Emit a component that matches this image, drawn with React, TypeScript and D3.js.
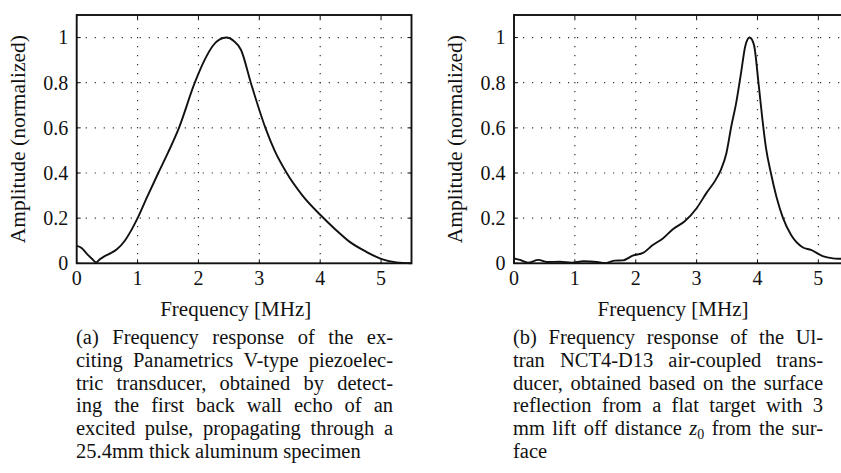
import React, { useLayoutEffect, useRef } from "react";
import * as d3 from "d3";

const xTicks = [0, 1, 2, 3, 4, 5];
const xTickLabels = ["0", "1", "2", "3", "4", "5"];
const yTicks = [0, 0.2, 0.4, 0.6, 0.8, 1];
const yTickLabels = ["0", "0.2", "0.4", "0.6", "0.8", "1"];

const leftFreq = [0, 0.08, 0.16, 0.25, 0.32, 0.38, 0.46, 0.56, 0.66, 0.79, 0.9, 1.0, 1.15, 1.34, 1.5, 1.68, 1.94, 2.1, 2.24, 2.35, 2.46, 2.58, 2.7, 2.86, 3.1, 3.25, 3.45, 3.71, 4.0, 4.25, 4.48, 4.75, 5.0, 5.25, 5.5];
const leftAmp = [0.077, 0.068, 0.044, 0.02, 0.004, 0.018, 0.032, 0.045, 0.062, 0.1, 0.148, 0.2, 0.29, 0.4, 0.49, 0.6, 0.8, 0.9, 0.965, 0.992, 1.0, 0.985, 0.945, 0.8, 0.6, 0.5, 0.4, 0.3, 0.215, 0.15, 0.096, 0.052, 0.02, 0.004, 0.0];

const rightFreq = [0, 0.1, 0.23, 0.4, 0.54, 0.75, 0.95, 1.14, 1.36, 1.49, 1.66, 1.79, 1.96, 2.12, 2.28, 2.45, 2.61, 2.8, 3.0, 3.16, 3.32, 3.4, 3.49, 3.57, 3.65, 3.73, 3.8, 3.87, 3.94, 4.02, 4.08, 4.14, 4.22, 4.31, 4.42, 4.55, 4.74, 4.88, 5.07, 5.24, 5.36, 5.5];
const rightAmp = [0.022, 0.015, 0.003, 0.015, 0.006, 0.007, 0.003, 0.009, 0.006, 0.001, 0.012, 0.013, 0.035, 0.046, 0.081, 0.111, 0.151, 0.185, 0.244, 0.311, 0.373, 0.415, 0.489, 0.607, 0.711, 0.844, 0.963, 1.0, 0.97, 0.79, 0.64, 0.51, 0.4, 0.296, 0.2, 0.126, 0.071, 0.059, 0.032, 0.022, 0.02, 0.018];

const xLabel = "Frequency [MHz]";
const yLabel = "Amplitude (normalized)";

const captionA = [
  "(a) Frequency response of the ex-",
  "citing Panametrics V-type piezoelec-",
  "tric transducer, obtained by detect-",
  "ing the first back wall echo of an",
  "excited pulse, propagating through a",
  "25.4mm thick aluminum specimen",
];
const captionB = [
  "(b) Frequency response of the Ul-",
  "tran NCT4-D13 air-coupled trans-",
  "ducer, obtained based on the surface",
  "reflection from a flat target with 3",
  "mm lift off distance z0 from the sur-",
  "face",
];

const FONT = '"Liberation Serif", "Times New Roman", "DejaVu Serif", serif';
const TICKFS = 20;
const LABELFS = 21;
const CAPFS = 20.5;
const SUBFS = 14;

type Seg = { t: string; it?: boolean; sub?: boolean };
function wordSegs(w: string): Seg[] {
  if (w === "z0") return [{ t: "z", it: true }, { t: "0", sub: true }];
  return [{ t: w }];
}

function Caption({ lines, x0, x1, y0, dy }: { lines: string[]; x0: number; x1: number; y0: number; dy: number }) {
  const ref = useRef<SVGGElement>(null);
  useLayoutEffect(() => {
    if (!ref.current) return;
    const g = d3.select(ref.current);
    g.selectAll("*").remove();
    const probe = g.append("text").attr("font-size", CAPFS).text("a a");
    const withSpace = (probe.node() as SVGTextElement).getComputedTextLength();
    probe.text("aa");
    const space = withSpace - (probe.node() as SVGTextElement).getComputedTextLength();
    probe.remove();
    lines.forEach((line, li) => {
      const y = y0 + li * dy;
      const words = line.split(" ");
      const text = g.append("text").attr("font-size", CAPFS).attr("y", y);
      const items = words.map((w) => {
        const segs = wordSegs(w);
        const nodes = segs.map((s) =>
          text
            .append("tspan")
            .attr("font-size", s.sub ? SUBFS : CAPFS)
            .attr("font-style", s.it ? "italic" : "normal")
            .attr("y", s.sub ? y + 3.5 : y)
            .text(s.t)
        );
        const widths = nodes.map((n) => (n.node() as SVGTextContentElement).getComputedTextLength());
        return { nodes, widths, w: d3.sum(widths) };
      });
      const last = li === lines.length - 1;
      const total = d3.sum(items, (d) => d.w);
      const gap = !last && words.length > 1 ? (x1 - x0 - total) / (words.length - 1) : space;
      let x = x0;
      items.forEach((it) => {
        let sx = x;
        it.nodes.forEach((n, k) => {
          n.attr("x", sx);
          sx += it.widths[k];
        });
        x += it.w + gap;
      });
    });
  }, [lines, x0, x1, y0, dy]);
  return <g ref={ref} style={{ fontFamily: FONT }} fill="#111" />;
}

function Panel({ left, freq, amp }: { left: number; freq: number[]; amp: number[] }) {
  const top = 15;
  const bottom = 263.3;
  const x = d3.scaleLinear().domain([0, 5.5]).range([left, left + 334.8]);
  const y = d3.scaleLinear().domain([0, 1.1]).range([bottom, top]);
  const right = x(5.5);
  const line = d3
    .line<number>()
    .x((_, i) => x(freq[i]))
    .y((d) => y(d))
    .curve(d3.curveMonotoneX);
  const tl = 4;
  return (
    <g>
      <g stroke="#333" strokeWidth={1.2} strokeDasharray="1.2 7.8">
        {xTicks.slice(1).map((t) => (
          <line key={"gx" + t} x1={x(t)} x2={x(t)} y1={bottom} y2={top} />
        ))}
        {yTicks.slice(1).map((t) => (
          <line key={"gy" + t} x1={left} x2={right} y1={y(t)} y2={y(t)} />
        ))}
      </g>
      <g stroke="#111" strokeWidth={1}>
        {xTicks.map((t) => (
          <g key={"tx" + t}>
            <line x1={x(t)} x2={x(t)} y1={bottom} y2={bottom - tl} />
            <line x1={x(t)} x2={x(t)} y1={top} y2={top + tl} />
          </g>
        ))}
        {yTicks.map((t) => (
          <g key={"ty" + t}>
            <line x1={left} x2={left + tl} y1={y(t)} y2={y(t)} />
            <line x1={right} x2={right - tl} y1={y(t)} y2={y(t)} />
          </g>
        ))}
      </g>
      <path d={line(amp) || ""} fill="none" stroke="#111" strokeWidth={1.9} strokeLinejoin="round" />
      <rect x={left} y={top} width={right - left} height={bottom - top} fill="none" stroke="#111" strokeWidth={1.9} />
      <g style={{ fontFamily: FONT }} fill="#111">
        {xTicks.map((t, i) => (
          <text key={"lx" + t} x={x(t)} y={285} textAnchor="middle" fontSize={TICKFS}>
            {xTickLabels[i]}
          </text>
        ))}
        {yTicks.map((t, i) => (
          <text key={"ly" + t} x={left - 8.5} y={y(t)} dy="0.34em" textAnchor="end" fontSize={TICKFS}>
            {yTickLabels[i]}
          </text>
        ))}
        <text x={left + 159} y={316} textAnchor="middle" fontSize={LABELFS}>
          {xLabel}
        </text>
        <text
          transform={`translate(${left - 52},${(top + bottom) / 2}) rotate(-90)`}
          textAnchor="middle"
          fontSize={21.5}
        >
          {yLabel}
        </text>
      </g>
    </g>
  );
}

export default function App() {
  return (
    <svg width={841} height={473} style={{ position: "absolute", left: 0, top: 0, background: "#fff" }}>
      <rect width={841} height={473} fill="#fff" />
      <Panel left={76.7} freq={leftFreq} amp={leftAmp} />
      <Panel left={514} freq={rightFreq} amp={rightAmp} />
      <Caption lines={captionA} x0={76} x1={393} y0={344} dy={22.8} />
      <Caption lines={captionB} x0={513} x1={823} y0={344} dy={22.8} />
    </svg>
  );
}
